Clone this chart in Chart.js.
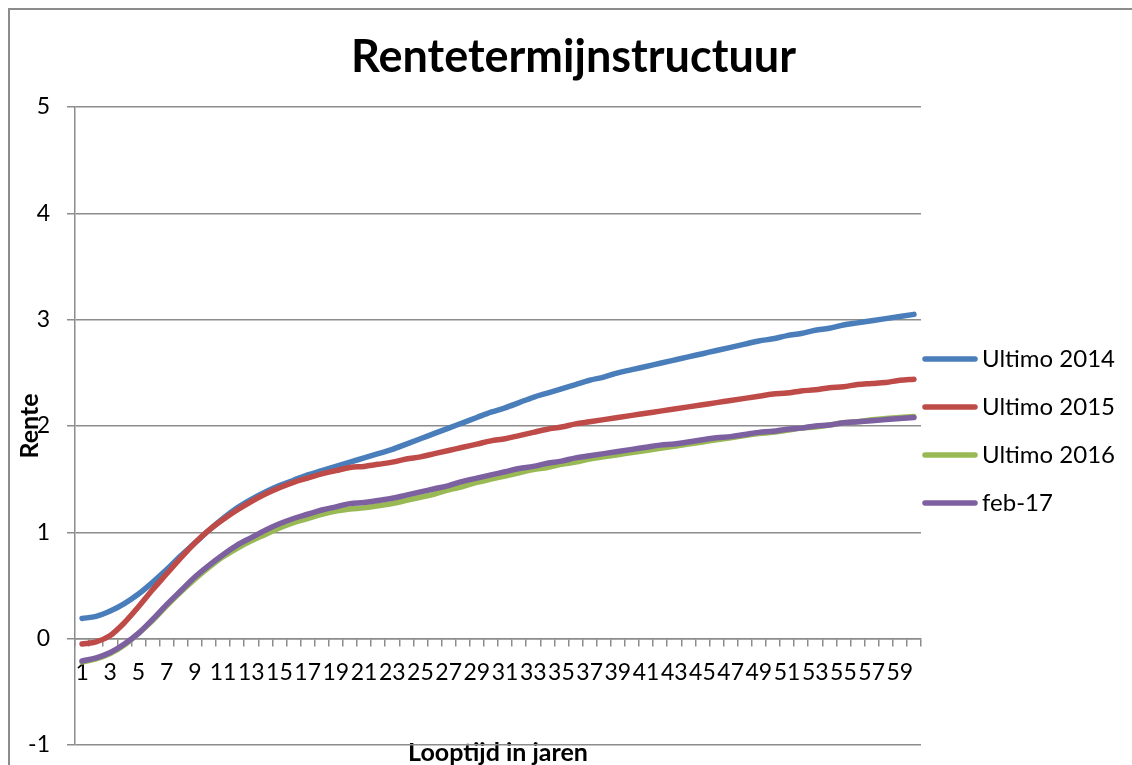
<!DOCTYPE html>
<html>
<head>
<meta charset="utf-8">
<title>Rentetermijnstructuur</title>
<script src="https://cdn.jsdelivr.net/npm/chart.js@4/dist/chart.umd.min.js"></script>
<style>
    html, body { margin: 0; padding: 0; background: #fff; overflow: hidden; }
    #wrap { position: relative; width: 1132px; height: 765px; }
    #frame { position: absolute; left: 8px; top: 8px; width: 2000px; height: 2000px; border: 2px solid #8c8c8c; }
    #chart { position: absolute; left: 0; top: 0; }
</style>
</head>
<body>
<div id="wrap">
    <div id="frame"></div>
    <canvas id="chart" width="1132" height="765"></canvas>
</div>
<script>
// looptijd in jaren 1..60
const years = [];
for (let i = 1; i <= 60; i++) years.push(String(i));

const seriesNames = ['Ultimo 2014', 'Ultimo 2015', 'Ultimo 2016', 'feb-17'];
const seriesColors = ['#4A7EBB', '#BE4B48', '#98B954', '#7D60A0'];

const ultimo2014 = [0.19, 0.21, 0.26, 0.33, 0.42, 0.53, 0.65, 0.78, 0.90, 1.02,
    1.13, 1.23, 1.31, 1.38, 1.44, 1.49, 1.54, 1.58, 1.62, 1.66,
    1.70, 1.74, 1.78, 1.83, 1.88, 1.93, 1.98, 2.03, 2.08, 2.13,
    2.17, 2.22, 2.27, 2.31, 2.35, 2.39, 2.43, 2.46, 2.50, 2.53,
    2.56, 2.59, 2.62, 2.65, 2.68, 2.71, 2.74, 2.77, 2.80, 2.82,
    2.85, 2.87, 2.90, 2.92, 2.95, 2.97, 2.99, 3.01, 3.03, 3.05];

const ultimo2015 = [-0.05, -0.03, 0.03, 0.15, 0.30, 0.46, 0.61, 0.76, 0.90, 1.02,
    1.12, 1.21, 1.29, 1.36, 1.42, 1.47, 1.51, 1.55, 1.58, 1.61,
    1.62, 1.64, 1.66, 1.69, 1.71, 1.74, 1.77, 1.80, 1.83, 1.86,
    1.88, 1.91, 1.94, 1.97, 1.99, 2.02, 2.04, 2.06, 2.08, 2.10,
    2.12, 2.14, 2.16, 2.18, 2.20, 2.22, 2.24, 2.26, 2.28, 2.30,
    2.31, 2.33, 2.34, 2.36, 2.37, 2.39, 2.40, 2.41, 2.43, 2.44];

const ultimo2016 = [-0.22, -0.19, -0.14, -0.06, 0.05, 0.17, 0.31, 0.44, 0.56, 0.67,
    0.77, 0.85, 0.92, 0.98, 1.04, 1.09, 1.13, 1.17, 1.20, 1.22,
    1.23, 1.25, 1.27, 1.30, 1.33, 1.36, 1.40, 1.43, 1.47, 1.50,
    1.53, 1.56, 1.59, 1.61, 1.64, 1.66, 1.69, 1.71, 1.73, 1.75,
    1.77, 1.79, 1.81, 1.83, 1.85, 1.87, 1.89, 1.91, 1.93, 1.94,
    1.96, 1.98, 1.99, 2.01, 2.03, 2.04, 2.06, 2.07, 2.08, 2.09];

const feb17 = [-0.21, -0.18, -0.13, -0.05, 0.05, 0.18, 0.32, 0.45, 0.58, 0.69,
    0.79, 0.88, 0.95, 1.02, 1.08, 1.13, 1.17, 1.21, 1.24, 1.27,
    1.28, 1.30, 1.32, 1.35, 1.38, 1.41, 1.44, 1.48, 1.51, 1.54,
    1.57, 1.60, 1.62, 1.65, 1.67, 1.70, 1.72, 1.74, 1.76, 1.78,
    1.80, 1.82, 1.83, 1.85, 1.87, 1.89, 1.90, 1.92, 1.94, 1.95,
    1.97, 1.98, 2.00, 2.01, 2.03, 2.04, 2.05, 2.06, 2.07, 2.08];

const yTicks = [-1, 0, 1, 2, 3, 4, 5];

const gridGrey = '#8c8c8c';
const fontFamily = 'Lato, Carlito, Calibri, sans-serif';

// legend at the right, drawn next to the plot area like Excel does
const sideLegend = {
    id: 'sideLegend',
    afterDraw(chart) {
        const ctx = chart.ctx;
        const area = chart.chartArea;
        const midY = (area.top + area.bottom) / 2 + 5;
        ctx.save();
        ctx.font = '24px ' + fontFamily;
        ctx.textBaseline = 'middle';
        ctx.textAlign = 'left';
        chart.data.datasets.forEach((ds, i) => {
            const y = midY + (i - 1.5) * 48;
            ctx.strokeStyle = ds.borderColor;
            ctx.lineWidth = 5.5;
            ctx.lineCap = 'round';
            ctx.beginPath();
            ctx.moveTo(area.right + 4, y);
            ctx.lineTo(area.right + 54, y);
            ctx.stroke();
            ctx.fillStyle = '#000';
            ctx.fillText(ds.label, area.right + 61, y);
        });
        ctx.restore();
    }
};

const allSeries = [ultimo2014, ultimo2015, ultimo2016, feb17];

const ctx = document.getElementById('chart').getContext('2d');
new Chart(ctx, {
    type: 'line',
    data: {
        labels: years,
        datasets: allSeries.map((values, i) => ({
            label: seriesNames[i],
            data: values,
            borderColor: seriesColors[i],
            backgroundColor: seriesColors[i],
            borderWidth: 5.5,
            borderCapStyle: 'round',
            pointRadius: 0,
            cubicInterpolationMode: 'monotone',
            xAxisID: 'x',
            yAxisID: 'y',
            order: allSeries.length - i
        }))
    },
    options: {
        responsive: false,
        animation: false,
        layout: { padding: { left: 15, right: 0, top: 0, bottom: 0 } },
        plugins: {
            legend: { display: false },
            tooltip: { enabled: false },
            title: {
                display: true,
                text: 'Rentetermijnstructuur',
                color: '#000',
                font: { family: fontFamily, size: 45, weight: 'bold' },
                padding: { top: 30, bottom: 23 }
            }
        },
        scales: {
            x: {
                type: 'category',
                position: { y: 0 },
                offset: true,
                grid: {
                    offset: true,
                    drawOnChartArea: false,
                    drawTicks: true,
                    tickLength: 7,
                    color: gridGrey,
                    lineWidth: 1.5
                },
                border: { display: true, color: gridGrey, width: 1.5 },
                ticks: {
                    autoSkip: false,
                    maxRotation: 0,
                    minRotation: 0,
                    padding: 13,
                    color: '#000',
                    font: { family: fontFamily, size: 23 },
                    callback: (value, index) => index % 2 === 0 ? years[index] : ''
                }
            },
            xTitle: {
                type: 'category',
                position: 'bottom',
                grid: { display: false },
                border: { display: false },
                ticks: { display: false },
                title: {
                    display: true,
                    text: 'Looptijd in jaren',
                    color: '#000',
                    font: { family: fontFamily, size: 25, weight: 'bold' },
                    padding: { top: 0, bottom: -3 }
                },
                afterFit: (scale) => { scale.height = 20; }
            },
            y: {
                min: -1,
                max: 5,
                afterBuildTicks: (scale) => { scale.ticks = yTicks.map(v => ({ value: v })); },
                grid: {
                    color: gridGrey,
                    lineWidth: 1.5,
                    drawTicks: true,
                    tickLength: 8
                },
                border: { display: true, color: gridGrey, width: 1.5 },
                ticks: {
                    padding: 17,
                    color: '#000',
                    font: { family: fontFamily, size: 23 }
                },
                title: {
                    display: true,
                    text: 'Rente',
                    color: '#000',
                    font: { family: fontFamily, size: 25, weight: 'bold' },
                    padding: 0
                },
                afterFit: (scale) => {
                    scale.width = 60;
                    scale.paddingTop = 0;
                    scale.paddingBottom = 0;
                }
            },
            legendSpace: {
                type: 'linear',
                position: 'right',
                grid: { display: false },
                border: { display: false },
                ticks: { display: false },
                afterFit: (scale) => { scale.width = 211; }
            }
        }
    },
    plugins: [sideLegend]
});
</script>
</body>
</html>
